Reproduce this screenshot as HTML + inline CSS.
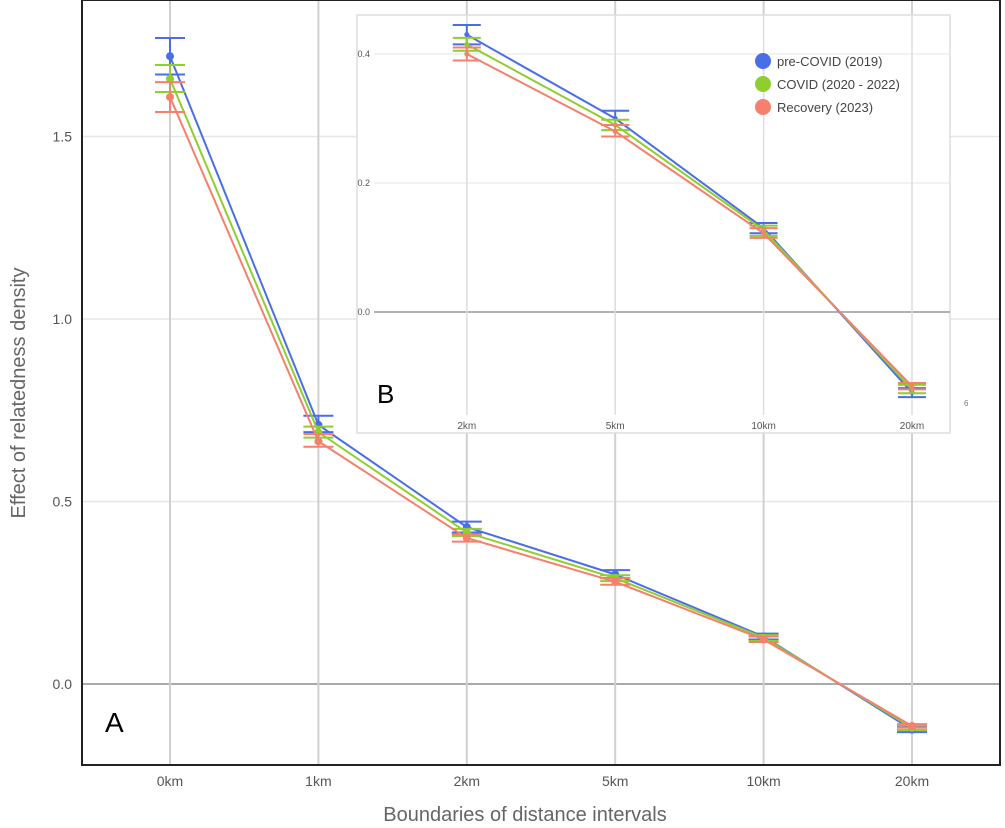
<!DOCTYPE html>
<html><head><meta charset="utf-8"><style>
body{margin:0;background:#fff;font-family:"Liberation Sans",sans-serif}
svg{display:block}
</style></head><body>
<svg id="c" width="1005" height="828" xmlns="http://www.w3.org/2000/svg"></svg>
<script>
const categories=["0km","1km","2km","5km","10km","20km"];
const seriesNames=["pre-COVID (2019)","COVID (2020 - 2022)","Recovery (2023)"];
const colors=["#4a6ee8","#8fce2e","#f5806e"];
const est=[[1.72,0.71,0.43,0.30,0.13,-0.125],[1.658,0.69,0.415,0.29,0.127,-0.12],[1.608,0.665,0.40,0.28,0.122,-0.115]];
const lo=[[1.67,0.69,0.415,0.29,0.122,-0.132],[1.622,0.675,0.405,0.282,0.118,-0.126],[1.567,0.65,0.39,0.272,0.115,-0.12]];
const hi=[[1.77,0.735,0.445,0.312,0.138,-0.118],[1.696,0.705,0.425,0.298,0.134,-0.113],[1.649,0.685,0.41,0.29,0.13,-0.11]];
const yTicks=[0,0.5,1.0,1.5];const yTickLabels=["0.0","0.5","1.0","1.5"];
const insetTicks=[0,0.2,0.4];const insetTickLabels=["0.0","0.2","0.4"];
const NS="http://www.w3.org/2000/svg";const svg=document.getElementById('c');
function el(t,a,p){const e=document.createElementNS(NS,t);for(const k in a)e.setAttribute(k,a[k]);(p||svg).appendChild(e);return e;}
const X=i=>170+i*148.4;
const Y=v=>684-v*365;
// main
const g=el('g',{});
yTicks.forEach((t,i)=>{const l=el('line',{x1:82,x2:1000,y1:Y(t),y2:Y(t),stroke:t===0?'#aaa':'#e6e6e6','stroke-width':t===0?2:1.5},g);
const tx=el('text',{x:72,y:Y(t)+5,'text-anchor':'end','font-size':14,fill:'#555'},g);tx.textContent=yTickLabels[i];});
categories.forEach((c,i)=>{const l=el('line',{x1:X(i),x2:X(i),y1:0,y2:765,stroke:'#d0d0d0','stroke-width':2},g);
const tx=el('text',{x:X(i),y:786,'text-anchor':'middle','font-size':14,fill:'#555'},g);tx.textContent=c;});
function drawSeries(par,xf,yf,idxs,w,r){
for(let s=0;s<3;s++){const pts=idxs.map(i=>xf(i)+','+yf(est[s][i])).join(' ');
const pl=el('polyline',{points:pts,fill:'none',stroke:colors[s],'stroke-width':2},par);
idxs.forEach(i=>{const x=xf(i);
const e1=el('path',{d:`M${x-w} ${yf(hi[s][i])}H${x+w}M${x-w} ${yf(lo[s][i])}H${x+w}M${x} ${yf(hi[s][i])}V${yf(lo[s][i])}`,stroke:colors[s],'stroke-width':2,fill:'none'},par);
const p=el('circle',{cx:x,cy:yf(est[s][i]),r:r,fill:colors[s]},par);});}}
drawSeries(g,X,Y,[0,1,2,3,4,5],15,4);
const fr=el('rect',{x:82,y:0,width:918,height:765,fill:'none',stroke:'#222','stroke-width':2},g);
let t=el('text',{x:105,y:732,'font-size':28,fill:'#000'});t.textContent='A';
t=el('text',{x:525,y:821,'text-anchor':'middle','font-size':20,fill:'#666'});t.textContent='Boundaries of distance intervals';
t=el('text',{x:25,y:393,'text-anchor':'middle','font-size':20,fill:'#666',transform:'rotate(-90 25 393)'});t.textContent='Effect of relatedness density';
// inset
const ig=el('g',{});
const ib=el('rect',{x:357,y:15,width:593,height:418,fill:'#fff',stroke:'#ddd','stroke-width':1.5},ig);
const IY=v=>312-v*645;
insetTicks.forEach((tk,i)=>{const l=el('line',{x1:374,x2:950,y1:IY(tk),y2:IY(tk),stroke:tk===0?'#999':'#e6e6e6','stroke-width':tk===0?1.5:1},ig);
const tx=el('text',{x:370,y:IY(tk)+3,'text-anchor':'end','font-size':9,fill:'#555'},ig);tx.textContent=insetTickLabels[i];});
[2,3,4,5].forEach(i=>{const l=el('line',{x1:X(i),x2:X(i),y1:15,y2:415,stroke:'#ddd','stroke-width':1.5},ig);
const tx=el('text',{x:X(i),y:429,'text-anchor':'middle','font-size':10,fill:'#555'},ig);tx.textContent=categories[i];});
drawSeries(ig,X,IY,[2,3,4,5],14,2.5);
t=el('text',{x:377,y:403,'font-size':26,fill:'#000'},ig);t.textContent='B';
t=el('text',{x:964,y:406,'font-size':8,fill:'#777'});t.textContent='6';
seriesNames.forEach((n,s)=>{const cy=61+s*23;const lg=el('g',{},ig);
el('circle',{cx:763,cy:cy,r:8,fill:colors[s]},lg);const tx=el('text',{x:777,y:cy+5,'font-size':13,fill:'#444'},lg);tx.textContent=n;});
</script></body></html>
